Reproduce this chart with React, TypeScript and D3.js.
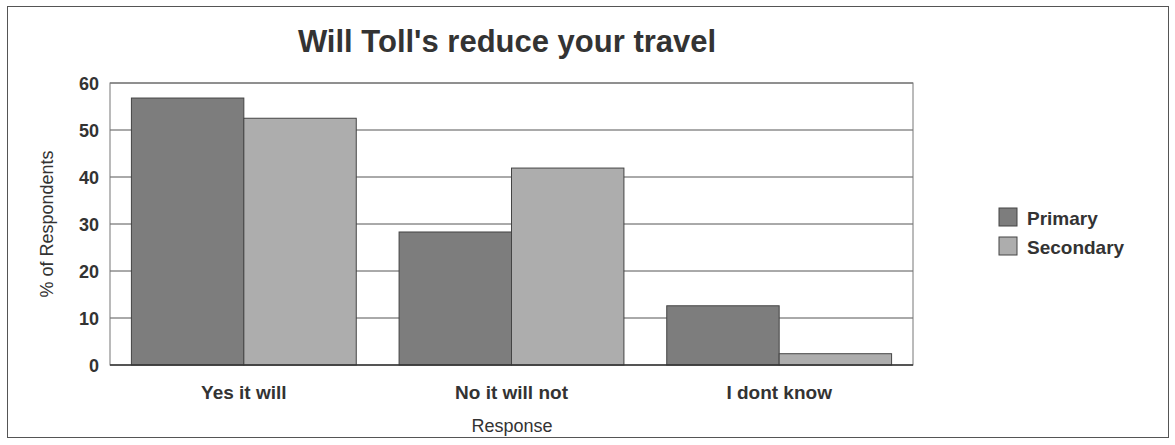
import React from 'react';
import * as d3 from 'd3';

const categories = ['Yes it will', 'No it will not', 'I dont know'];
const seriesNames = ['Primary', 'Secondary'];
const primary = [56.8, 28.3, 12.6];
const secondary = [52.5, 41.9, 2.4];
const yTicks = [0, 10, 20, 30, 40, 50, 60];
const colors = ['#7d7d7d', '#adadad'];

const App = () => {
    const width = 1175;
    const height = 445;
    const marginLeft = 110;
    const marginRight = 262;
    const marginTop = 83;
    const marginBottom = 80;

    const x = d3.scaleBand<string>().domain(categories).range([marginLeft, width - marginRight]).paddingInner(0.16).paddingOuter(0.08);
    const xs = d3.scaleBand<string>().domain(seriesNames).range([0, x.bandwidth()]);
    const y = d3.scaleLinear().domain([0, 60]).range([height - marginBottom, marginTop]);
    const values = [primary, secondary];
    const textColor = '#333';

    return (
        <svg width={width} height={height} style={{ position: 'absolute', left: 0, top: 0 }} fontFamily="Arial, Liberation Sans, sans-serif">
            <rect x={7.5} y={6.5} width={1161} height={431} fill="white" stroke="#555" strokeWidth={1} />
            <text x={507} y={52} textAnchor="middle" fontSize={31} fontWeight="bold" fill={textColor}>Will Toll's reduce your travel</text>

            {/* grid */}
            <g stroke="#555" strokeWidth={1}>
                {yTicks.filter(t => t > 0).map(t => (
                    <line key={t} x1={marginLeft} x2={width - marginRight} y1={y(t)} y2={y(t)} />
                ))}
            </g>
            <rect x={marginLeft} y={marginTop} width={width - marginRight - marginLeft} height={height - marginBottom - marginTop} fill="none" stroke="#777" strokeWidth={1} />

            {/* bars */}
            {categories.map((c, i) => (
                <g key={c}>
                    {seriesNames.map((s, j) => (
                        <rect key={s} x={(x(c) ?? 0) + (xs(s) ?? 0)} y={y(values[j][i])} width={xs.bandwidth()}
                            height={y(0) - y(values[j][i])} fill={colors[j]} stroke="#444" strokeWidth={1} />
                    ))}
                </g>
            ))}
            <line x1={marginLeft} x2={width - marginRight} y1={y(0)} y2={y(0)} stroke="#333" strokeWidth={1.5} />

            {/* y axis labels */}
            {yTicks.map(t => (
                <text key={t} x={99} y={y(t) + 6.5} textAnchor="end" fontSize={18} fontWeight="bold" fill={textColor}>{t}</text>
            ))}
            <text transform={`translate(53, ${(y(0) + y(60)) / 2}) rotate(-90)`} textAnchor="middle" fontSize={18} fill={textColor}>% of Respondents</text>

            {/* x axis labels */}
            {categories.map(c => (
                <text key={c} x={(x(c) ?? 0) + x.bandwidth() / 2} y={399} textAnchor="middle" fontSize={19} fontWeight="bold" fill={textColor}>{c}</text>
            ))}
            <text x={512} y={432} textAnchor="middle" fontSize={18} fill={textColor}>Response</text>

            {/* legend */}
            {seriesNames.map((s, j) => (
                <g key={s} transform={`translate(999, ${208 + j * 29})`}>
                    <rect x={0} y={0} width={18} height={18} fill={colors[j]} stroke="#444" strokeWidth={1} />
                    <text x={28} y={17} fontSize={19} fontWeight="bold" fill={textColor}>{s}</text>
                </g>
            ))}
        </svg>
    );
};

export default App;
